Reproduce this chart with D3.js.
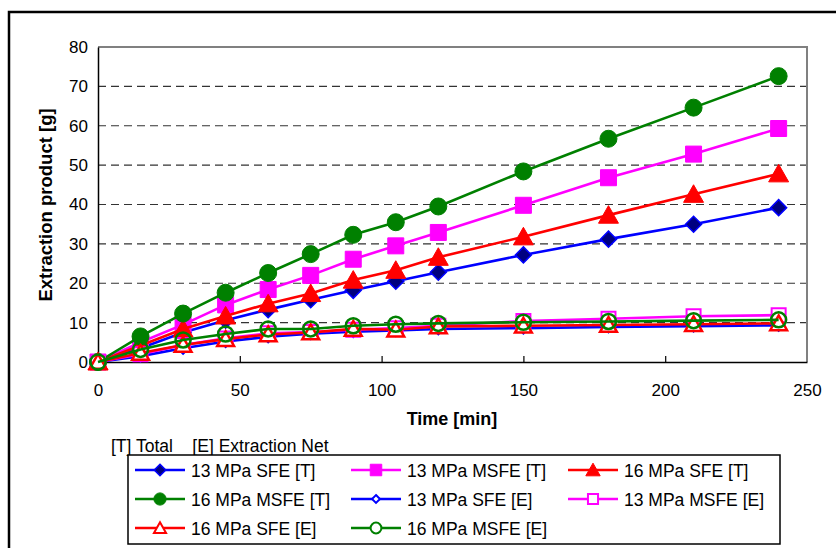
<!DOCTYPE html>
<html>
<head>
<meta charset="utf-8">
<script src="https://cdn.jsdelivr.net/npm/d3@7"></script>
<style>
  body { margin: 0; background: #fff; }
  svg { display: block; font-family: "Liberation Sans", Arial, sans-serif; }
</style>
</head>
<body>
<div class="canvas"></div>
<script>
const times = [0, 15, 30, 45, 60, 75, 90, 105, 120, 150, 180, 210, 240];

const sfe13Total = [0, 3.5, 7.5, 10.6, 13.3, 15.8, 18.2, 20.5, 22.8, 27.2, 31.2, 35.0, 39.2];
const msfe13Total = [0, 5.0, 9.5, 14.5, 18.4, 22.0, 26.1, 29.5, 32.9, 39.8, 46.8, 52.8, 59.3];
const sfe16Total = [0, 4.2, 8.4, 11.7, 14.8, 17.4, 20.8, 23.3, 26.6, 31.8, 37.3, 42.6, 47.8];
const msfe16Total = [0, 6.5, 12.3, 17.6, 22.6, 27.4, 32.3, 35.5, 39.5, 48.4, 56.7, 64.6, 72.6];

const sfe13Net = [0, 1.5, 3.5, 5.2, 6.4, 7.2, 7.7, 8.0, 8.4, 8.6, 8.9, 9.1, 9.3];
const msfe13Net = [0, 2.0, 4.3, 6.0, 7.3, 7.6, 8.2, 8.6, 9.2, 10.4, 11.0, 11.6, 11.9];
const sfe16Net = [0, 2.3, 4.3, 5.8, 7.0, 7.5, 8.4, 8.2, 9.0, 9.2, 9.4, 9.6, 9.8];
const msfe16Net = [0, 3.2, 5.6, 7.1, 8.4, 8.4, 9.2, 9.6, 9.8, 10.1, 10.3, 10.5, 10.7];

const seriesNames = [
  "13 MPa SFE [T]", "13 MPa MSFE [T]", "16 MPa SFE [T]", "16 MPa MSFE [T]",
  "13 MPa SFE [E]", "13 MPa MSFE [E]", "16 MPa SFE [E]", "16 MPa MSFE [E]"
];
const seriesValues = [
  sfe13Total, msfe13Total, sfe16Total, msfe16Total,
  sfe13Net, msfe13Net, sfe16Net, msfe16Net
];

const xTicks = [0, 50, 100, 150, 200, 250];
const yTicks = [0, 10, 20, 30, 40, 50, 60, 70, 80];

// marker shapes, size = half width
const shapes = {
  diamond: { draw(c, s) { c.moveTo(0, -s); c.lineTo(s, 0); c.lineTo(0, s); c.lineTo(-s, 0); c.closePath(); } },
  square: { draw(c, s) { c.rect(-s, -s, 2 * s, 2 * s); } },
  triangle: { draw(c, s) { c.moveTo(0, -s); c.lineTo(s * 1.05, s * 0.85); c.lineTo(-s * 1.05, s * 0.85); c.closePath(); } },
  circle: { draw(c, s) { c.moveTo(s, 0); c.arc(0, 0, s, 0, 2 * Math.PI); } }
};

const styles = [
  { color: "#0000ff", shape: "diamond", size: 8, fill: "#000080", sw: 1.5 },
  { color: "#ff00ff", shape: "square", size: 8, fill: "#ff00ff", sw: 1 },
  { color: "#ff0000", shape: "triangle", size: 9.5, fill: "#ff0000", sw: 1 },
  { color: "#008000", shape: "circle", size: 8.5, fill: "#008000", sw: 1 },
  { color: "#0000ff", shape: "diamond", size: 5.5, fill: "#fff", sw: 2 },
  { color: "#ff00ff", shape: "square", size: 7, fill: "#fff", sw: 2 },
  { color: "#ff0000", shape: "triangle", size: 8, fill: "#fff", sw: 2.5 },
  { color: "#008000", shape: "circle", size: 7.5, fill: "none", sw: 2.5 }
];

const svg = d3.select(".canvas").append("svg").attr("width", 836).attr("height", 548);

// outer frame
svg.append("path")
  .attr("d", "M9,548 L9,12 L836,12")
  .attr("fill", "none").attr("stroke", "#000").attr("stroke-width", 2.5);

const x = d3.scaleLinear().domain([0, 250]).range([98, 807]);
const y = d3.scaleLinear().domain([0, 80]).range([362, 47]);

// gridlines
svg.append("g").selectAll("line")
  .data(yTicks.filter((d) => d > 0 && d < 80))
  .enter().append("line")
  .attr("x1", x(0)).attr("x2", x(250))
  .attr("y1", (d) => y(d)).attr("y2", (d) => y(d))
  .attr("stroke", "#333").attr("stroke-width", 1.2).attr("stroke-dasharray", "8,5");

// plot frame top/right
svg.append("path")
  .attr("d", `M${x(0)},${y(80)} L${x(250)},${y(80)} L${x(250)},${y(0)}`)
  .attr("fill", "none").attr("stroke", "#808080").attr("stroke-width", 2);

const xAxis = d3.axisBottom(x).tickValues(xTicks).tickSizeInner(-6).tickSizeOuter(0).tickPadding(22);
const yAxis = d3.axisLeft(y).tickValues(yTicks).tickSizeInner(0).tickSizeOuter(0).tickPadding(10);

const gx = svg.append("g").attr("transform", `translate(0,${y(0)})`).call(xAxis);
const gy = svg.append("g").attr("transform", `translate(${x(0)},0)`).call(yAxis);
[gx, gy].forEach((g) => {
  g.select(".domain").attr("stroke", "#000").attr("stroke-width", 1.5);
  g.selectAll("text").attr("font-size", 17).attr("fill", "#000").attr("font-family", "Liberation Sans, Arial, sans-serif");
  g.selectAll("line").attr("stroke", "#000").attr("stroke-width", 1.2);
});
gx.selectAll(".tick line").filter((d) => d === 0 || d === 250).remove();

svg.append("text")
  .attr("x", 452).attr("y", 425)
  .attr("text-anchor", "middle").attr("font-weight", "bold").attr("font-size", 18)
  .text("Time [min]");

svg.append("text")
  .attr("transform", "translate(52,205) rotate(-90)")
  .attr("text-anchor", "middle").attr("font-weight", "bold").attr("font-size", 18.5)
  .text("Extraction product [g]");

// series
const line = d3.line().x((d) => x(d[0])).y((d) => y(d[1]));

seriesValues.forEach((vals, i) => {
  const st = styles[i];
  const pts = times.map((t, j) => [t, vals[j]]);
  const g = svg.append("g");
  g.append("path")
    .attr("d", line(pts))
    .attr("fill", "none").attr("stroke", st.color).attr("stroke-width", 2.6);
  g.selectAll("path.mk")
    .data(pts)
    .enter().append("path")
    .attr("class", "mk")
    .attr("d", d3.symbol().type(shapes[st.shape]).size(st.size))
    .attr("transform", (d) => `translate(${x(d[0])},${y(d[1])})`)
    .attr("fill", st.fill).attr("stroke", st.color).attr("stroke-width", st.sw);
});

// legend
svg.append("text")
  .attr("x", 111).attr("y", 452)
  .attr("font-size", 17.5)
  .attr("xml:space", "preserve")
  .text("[T] Total    [E] Extraction Net");

svg.append("rect")
  .attr("x", 128).attr("y", 455).attr("width", 652).attr("height", 89)
  .attr("fill", "#fff").attr("stroke", "#000").attr("stroke-width", 1.5);

const colX = [135, 351, 568];
const rowY = [470, 499, 528];

seriesNames.forEach((name, i) => {
  const st = styles[i];
  const cx = colX[i % 3];
  const cy = rowY[Math.floor(i / 3)];
  const g = svg.append("g").attr("transform", `translate(${cx},${cy})`);
  g.append("line").attr("x1", 0).attr("x2", 50).attr("y1", 0).attr("y2", 0)
    .attr("stroke", st.color).attr("stroke-width", 2.6);
  g.append("path")
    .attr("d", d3.symbol().type(shapes[st.shape]).size(st.size * 0.72))
    .attr("transform", "translate(25,0)")
    .attr("fill", st.fill === "none" ? "#fff" : st.fill)
    .attr("stroke", st.color).attr("stroke-width", Math.min(st.sw, 2));
  g.append("text")
    .attr("x", 56).attr("y", 6.5)
    .attr("font-size", 17.5)
    .text(name);
});
</script>
</body>
</html>
